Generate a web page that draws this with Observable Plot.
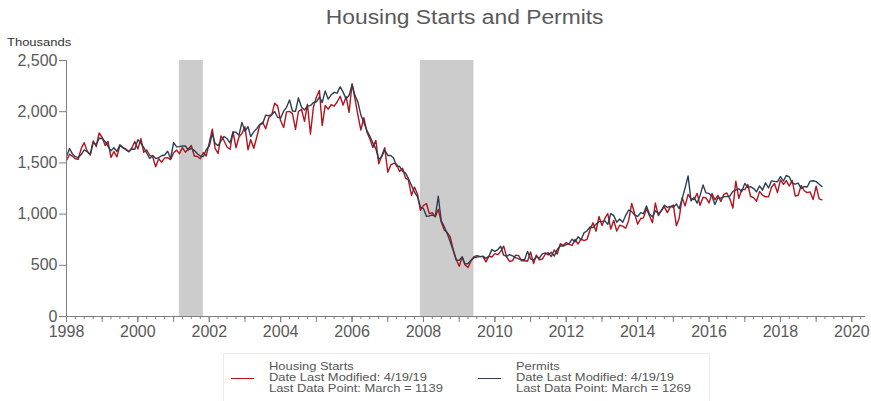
<!DOCTYPE html>
<html>
<head>
<meta charset="utf-8">
<script src="https://cdn.jsdelivr.net/npm/d3@7"></script>
<script src="https://cdn.jsdelivr.net/npm/@observablehq/plot@0.6"></script>
<style>
  body { margin: 0; background: #fff; font-family: "Liberation Sans", Arial, sans-serif; }
  #wrap { position: relative; width: 871px; height: 401px; overflow: hidden; }
  #title { position: absolute; left: 0; width: 871px; top: 6px; text-align: center; font-size: 19.5px; color: #595959; line-height: 22px; }
  #title span { display: inline-block; transform: scaleX(1.17); transform-origin: center; margin-left: 58px; }
  #units { position: absolute; left: 7px; top: 36px; font-size: 11px; color: #333; transform: scaleX(1.18); transform-origin: left; }
  #chart { position: absolute; left: 0; top: 0; }
  #legend { position: absolute; left: 223px; top: 353px; width: 485px; height: 60px; border: 1px solid #ececec; }
  .item { position: absolute; top: 0; }
  .swatch { position: absolute; top: 24px; width: 23px; height: 0; border-top: 1.5px solid; }
  .txt { position: absolute; top: 7px; font-size: 10.5px; line-height: 11px; color: #555; white-space: nowrap; transform: scaleX(1.23); transform-origin: left; }
</style>
</head>
<body>
<div id="wrap">
  <div id="chart"></div>
  <div id="title"><span>Housing Starts and Permits</span></div>
  <div id="units">Thousands</div>
  <div id="legend"></div>
</div>
<script>
// Monthly values, thousands of units (SAAR), January 1998 – March 2019
const startYear = 1998;
const starts = [
  1525,1584,1567,1540,1536,1641,1698,1614,1582,1715,1660,1792,
  1748,1670,1710,1553,1611,1559,1669,1648,1635,1608,1648,1708,
  1636,1737,1604,1626,1575,1559,1463,1541,1507,1549,1551,1532,
  1600,1625,1590,1649,1605,1636,1670,1567,1562,1540,1602,1568,
  1698,1829,1642,1592,1764,1717,1655,1633,1804,1648,1753,1788,
  1853,1629,1726,1643,1751,1867,1897,1833,1939,1967,2083,2057,
  1911,1846,1998,2003,1981,1828,2002,2024,1905,2072,1782,2042,
  2144,2207,1864,2061,2025,2068,2054,2095,2151,2065,2147,1994,
  2273,2119,1969,1821,1942,1802,1737,1650,1720,1491,1570,1649,
  1409,1480,1495,1490,1415,1448,1354,1330,1183,1264,1197,1037,
  1084,1103,1005,1013,973,1046,923,844,820,777,652,560,
  490,582,505,478,540,585,594,586,585,534,588,581,
  614,604,636,687,583,537,546,599,594,543,545,539,
  630,517,600,554,561,608,623,585,650,610,711,694,
  723,704,695,753,708,757,740,754,847,915,833,976,
  888,962,1005,853,939,835,891,883,863,938,1105,1003,
  902,957,963,1052,987,915,1108,985,1039,1071,1014,1071,
  1088,887,957,1161,1080,1193,1149,1143,1202,1086,1165,1159,
  1109,1201,1140,1183,1124,1193,1206,1149,1059,1322,1154,1241,
  1239,1289,1172,1161,1126,1222,1185,1169,1168,1261,1299,1210,
  1334,1290,1327,1276,1329,1177,1184,1280,1228,1209,1217,1142,
  1273,1149,1139
];
const permits = [
  1566,1641,1590,1561,1552,1581,1627,1610,1578,1699,1679,1740,
  1739,1707,1664,1618,1648,1611,1678,1652,1628,1611,1636,1634,
  1727,1692,1651,1597,1543,1572,1542,1552,1570,1577,1614,1543,
  1699,1656,1659,1666,1665,1626,1641,1620,1590,1567,1561,1629,
  1665,1787,1691,1669,1716,1758,1738,1695,1803,1799,1771,1896,
  1808,1854,1757,1803,1835,1875,1885,1966,1961,1971,2002,1946,
  1937,2006,2043,2114,2007,2004,2135,2045,2017,2056,2059,2090,
  2097,2145,2089,2203,2123,2165,2189,2181,2243,2191,2125,2158,
  2263,2155,2096,1967,1895,1818,1763,1695,1637,1536,1563,1625,
  1573,1573,1548,1466,1468,1417,1403,1346,1280,1216,1168,1069,
  1055,978,982,991,977,1174,934,877,807,730,644,551,
  550,582,513,518,548,575,581,585,590,568,589,653,
  636,654,686,599,588,604,591,575,563,554,554,636,
  563,551,582,571,612,621,601,628,591,654,688,688,
  702,715,755,729,778,748,817,837,874,868,902,926,
  929,934,900,1005,985,920,952,920,988,1040,1024,991,
  977,1014,1004,1079,1001,973,1032,1004,1032,1087,1065,1075,
  1067,1099,1052,1151,1254,1373,1129,1163,1107,1180,1285,1207,
  1202,1175,1093,1160,1156,1171,1171,1176,1223,1236,1247,1220,
  1300,1260,1268,1249,1219,1275,1234,1305,1255,1325,1320,1316,
  1366,1323,1377,1364,1301,1292,1303,1249,1270,1265,1322,1326,
  1317,1291,1269
];
const recessions = [
  {start: "2001-03-01", end: "2001-11-01"},
  {start: "2007-12-01", end: "2009-06-01"}
];
const yTicks = [0, 500, 1000, 1500, 2000, 2500];
const xLabelYears = [1998, 2000, 2002, 2004, 2006, 2008, 2010, 2012, 2014, 2016, 2018, 2020];
const seriesNames = ["Housing Starts", "Permits"];
const seriesColors = ["#b5121b", "#2c3e52"];
const legendInfo = [
  ["Housing Starts", "Date Last Modified: 4/19/19", "Last Data Point: March = 1139"],
  ["Permits", "Date Last Modified: 4/19/19", "Last Data Point: March = 1269"]
];

const monthDate = i => new Date(Date.UTC(startYear, i, 1));
const rows = [];
starts.forEach((v, i) => rows.push({date: monthDate(i), value: v, series: seriesNames[0]}));
permits.forEach((v, i) => rows.push({date: monthDate(i), value: v, series: seriesNames[1]}));
const rec = recessions.map(r => ({x1: new Date(r.start + "T00:00Z"), x2: new Date(r.end + "T00:00Z")}));

const x0 = new Date(Date.UTC(1998, 0, 1));
const x1 = new Date(Date.UTC(2020, 4, 20));
const quarterTicks = d3.utcMonth.every(3).range(x0, x1);
const yearTicks = d3.utcYear.every(1).range(x0, x1);
const labelTicks = xLabelYears.map(y => new Date(Date.UTC(y, 0, 1)));

const chart = Plot.plot({
  width: 871,
  height: 345,
  marginTop: 60,
  marginBottom: 29,
  marginLeft: 66,
  marginRight: 6,
  style: {fontFamily: '"Liberation Sans", Arial, sans-serif', color: "#595959", background: "transparent"},
  x: {type: "utc", domain: [x0, x1], axis: null},
  y: {domain: [0, 2500], axis: null},
  color: {domain: seriesNames, range: seriesColors},
  marks: [
    Plot.rect(rec, {x1: "x1", x2: "x2", y1: 0, y2: 2500, fill: "#cccccc"}),
    Plot.line(rows, {x: "date", y: "value", z: "series", stroke: "series", strokeWidth: 1.4}),
    Plot.ruleY([0], {stroke: "#808080"}),
    Plot.ruleX([x0], {stroke: "#808080"}),
    Plot.axisY({ticks: yTicks, tickFormat: d3.format(","), tickSize: 7, tickPadding: 2, fontSize: 16, label: null, stroke: "#808080"}),
    Plot.axisX({ticks: quarterTicks, tickSize: 3, tickFormat: () => "", label: null, stroke: "#808080"}),
    Plot.axisX({ticks: yearTicks, tickSize: 6, tickFormat: () => "", label: null, stroke: "#808080"}),
    Plot.axisX({ticks: labelTicks, tickSize: 6, tickPadding: 3, tickFormat: d3.utcFormat("%Y"), fontSize: 16, label: null, stroke: "#808080"})
  ]
});
document.getElementById("chart").appendChild(chart);

const legend = document.getElementById("legend");
const offsets = [{sw: 7, tx: 45}, {sw: 254, tx: 292}];
legendInfo.forEach((lines, i) => {
  const item = document.createElement("div");
  item.className = "item";
  item.style.left = "0px";
  const sw = document.createElement("div");
  sw.className = "swatch";
  sw.style.left = offsets[i].sw + "px";
  sw.style.borderTopColor = seriesColors[i];
  const tx = document.createElement("div");
  tx.className = "txt";
  tx.style.left = offsets[i].tx + "px";
  tx.innerHTML = lines.join("<br>");
  item.appendChild(sw);
  item.appendChild(tx);
  legend.appendChild(item);
});
</script>
</body>
</html>
